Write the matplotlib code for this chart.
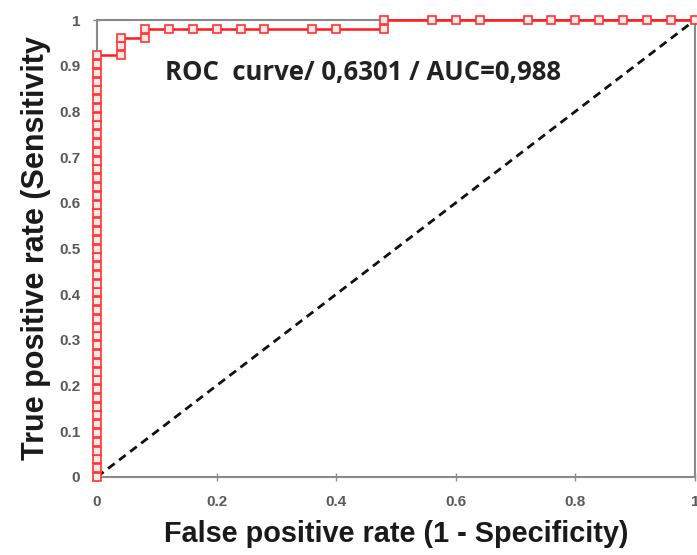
import matplotlib
matplotlib.use("Agg")
import matplotlib.pyplot as plt

# ROC points (FPR, TPR)
n_pos = 52
n_neg = 25
fpr_steps = [0]*49 + [1, 1, 1, 2, 2] + [3, 4, 5, 6, 7, 9, 10, 12] + [12, 14, 15, 16, 18, 19, 20, 21, 22, 23, 24, 25]
tpr_steps = list(range(0, 49)) + [48, 49, 50, 50, 51] + [51]*8 + [52]*12
fpr = [v / n_neg for v in fpr_steps]
tpr = [v / n_pos for v in tpr_steps]

x_ticks = [0, 0.2, 0.4, 0.6, 0.8, 1]
x_tick_labels = ["0", "0.2", "0.4", "0.6", "0.8", "1"]
y_ticks = [0, 0.1, 0.2, 0.3, 0.4, 0.5, 0.6, 0.7, 0.8, 0.9, 1]
y_tick_labels = ["0", "0.1", "0.2", "0.3", "0.4", "0.5", "0.6", "0.7", "0.8", "0.9", "1"]

fig = plt.figure(figsize=(6.97, 5.55), dpi=100)
ax = fig.add_axes([97/697, 1-477/555, 598/697, 457/555])

ax.plot([0, 1], [0, 1], ls=(0, (3, 2)), color="#111111", lw=2, zorder=2)
ax.plot(fpr, tpr, color="#ff1a1a", lw=1.8, marker="s", markersize=5.5,
        markerfacecolor="#ffe8e8", markeredgecolor="#ff3333", markeredgewidth=1.2,
        zorder=3, clip_on=False)

ax.set_xlim(0, 1)
ax.set_ylim(0, 1)
ax.set_xticks(x_ticks)
ax.set_xticklabels(x_tick_labels)
ax.set_yticks(y_ticks)
ax.set_yticklabels(y_tick_labels)
for s in ax.spines.values():
    s.set_color("#8a8a8a")
    s.set_linewidth(1.5)
ax.tick_params(axis="both", direction="inout", length=6, width=1, color="#8a8a8a",
               labelcolor="#595959", labelsize=11)
ax.tick_params(axis="x", pad=10)
ax.tick_params(axis="y", pad=9)
for lbl in ax.get_xticklabels() + ax.get_yticklabels():
    lbl.set_fontweight("bold")
    lbl.set_family("Liberation Sans")

ax.set_xlabel("False positive rate (1 - Specificity)", fontsize=20.8, fontweight="bold",
              family="Liberation Sans", color="#1a1a1a", labelpad=8)
ax.set_ylabel("True positive rate (Sensitivity", fontsize=22, fontweight="bold",
              family="Liberation Sans", color="#1a1a1a", labelpad=6)

ax.text(0.114, 0.886, "ROC  curve/ 0,6301 / AUC=0,988", transform=ax.transAxes,
        fontsize=18.5, fontweight="bold", family="Open Sans", color="#222222",
        ha="left", va="center")

fig.savefig("out.png", dpi=100)
